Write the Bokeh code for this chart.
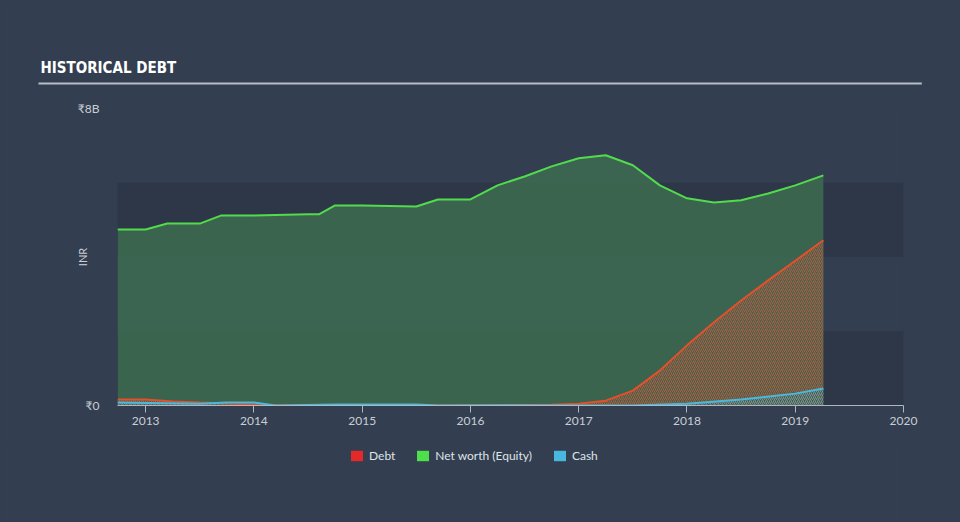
from bokeh.plotting import figure
from bokeh.layouts import column
from bokeh.models import (Range1d, FixedTicker, Legend, LegendItem, BoxAnnotation,
                          ColumnDataSource, Title)
from bokeh.embed import file_html
from bokeh.resources import INLINE

# ---------------- data (fractional years, INR billions) ----------------
nw_x = [2012.74, 2013.0, 2013.2, 2013.5, 2013.7, 2014.0, 2014.5, 2014.6, 2014.75, 2015.0,
        2015.5, 2015.7, 2016.0, 2016.25, 2016.5, 2016.75, 2017.0, 2017.25, 2017.5, 2017.75,
        2018.0, 2018.25, 2018.5, 2018.75, 2019.0, 2019.26]
nw_y = [4.74, 4.74, 4.9, 4.9, 5.12, 5.12, 5.15, 5.15, 5.39, 5.39,
        5.36, 5.55, 5.55, 5.93, 6.17, 6.44, 6.66, 6.74, 6.47, 5.93,
        5.58, 5.47, 5.53, 5.71, 5.93, 6.2]

debt_x = [2012.74, 2013.0, 2013.25, 2013.5, 2014.0, 2014.25, 2015.0, 2016.0, 2016.75,
          2017.0, 2017.25, 2017.5, 2017.75, 2018.0, 2018.25, 2018.5, 2018.75, 2019.0, 2019.26]
debt_y = [0.16, 0.16, 0.11, 0.08, 0.03, 0.0, 0.0, 0.0, 0.02,
          0.05, 0.13, 0.4, 0.94, 1.62, 2.24, 2.83, 3.37, 3.9, 4.45]

cash_x = [2012.74, 2013.5, 2013.75, 2014.0, 2014.2, 2014.75, 2015.5, 2015.7, 2016.25,
          2017.0, 2017.5, 2018.0, 2018.5, 2019.0, 2019.26]
cash_y = [0.08, 0.05, 0.08, 0.08, 0.0, 0.03, 0.03, 0.0, 0.01,
          0.0, 0.0, 0.05, 0.16, 0.32, 0.46]

year_ticks = [2013, 2014, 2015, 2016, 2017, 2018, 2019, 2020]
y_ticks = [0, 8000000000]
y_tick_labels = ["₹0", "₹8B"]
legend_labels = ["Debt", "Net worth (Equity)", "Cash"]
legend_colors = ["#e5292b", "#4ee04a", "#48b8df"]
chart_title = "HISTORICAL DEBT"

B = 1e9
BG = "#333f50"
BAND = "#2d3747"
TXT = "#c9ced6"
FONT = "Lato"

p = figure(width=960, height=440, x_range=Range1d(2012.74, 2020.0), y_range=Range1d(0, 8 * B),
           output_backend="svg", toolbar_location=None,
           min_border_left=117, min_border_right=57, min_border_top=108, min_border_bottom=35,
           background_fill_color=BG, border_fill_color=BG, outline_line_color=None,
           styles={"background-color": BG})
p.xgrid.visible = False
p.ygrid.visible = False

# above panel: spacer, rule, heading (stacked outward from the frame)
p.add_layout(Title(text=" ", text_font_size="20px", align="left", standoff=0), "above")
p.add_layout(Title(text=" ", text_font_size="1px", align="left", offset=-79, standoff=0,
                   padding=(0, 883, 1, 0), background_fill_color="#b8bec6"), "above")
p.add_layout(Title(text=chart_title, text_color="#ffffff",
                   text_font="DejaVu Sans Condensed, DejaVu Sans",
                   text_font_style="bold", text_font_size="15px", align="left", offset=-77,
                   standoff=7), "above")

p.add_layout(BoxAnnotation(bottom=0, top=2 * B, fill_color=BAND, fill_alpha=1, line_color=None, level="underlay"))
p.add_layout(BoxAnnotation(bottom=4 * B, top=6 * B, fill_color=BAND, fill_alpha=1, line_color=None, level="underlay"))

nw = ColumnDataSource(dict(x=nw_x, y=[v * B for v in nw_y]))
debt = ColumnDataSource(dict(x=debt_x, y=[v * B for v in debt_y]))
cash = ColumnDataSource(dict(x=cash_x, y=[v * B for v in cash_y]))

p.varea(x="x", y1=0, y2="y", source=nw, fill_color="#3c6b50", fill_alpha=0.88)
p.varea(x="x", y1=0, y2="y", source=debt, fill_alpha=0, hatch_pattern="/",
        hatch_color="#d9583a", hatch_alpha=0.8, hatch_scale=4, hatch_weight=1)
p.varea(x="x", y1=0, y2="y", source=cash, fill_alpha=0, hatch_pattern="/",
        hatch_color="#4bb8de", hatch_alpha=0.6, hatch_scale=4, hatch_weight=1)
p.line(x="x", y="y", source=nw, line_color="#52dc4c", line_width=2)
p.line(x="x", y="y", source=debt, line_color="#e3502b", line_width=2)
p.line(x="x", y="y", source=cash, line_color="#4bb8de", line_width=2)

# axes
p.xaxis.ticker = FixedTicker(ticks=year_ticks)
p.xaxis.minor_tick_line_color = None
p.xaxis.axis_line_color = "#b0b6be"
p.xaxis.major_tick_line_color = "#b0b6be"
p.xaxis.major_tick_out = 7
p.xaxis.major_tick_in = 0
p.xaxis.major_label_text_color = TXT
p.xaxis.major_label_text_font = FONT
p.xaxis.major_label_text_font_size = "12px"
p.xaxis.major_label_standoff = 4

p.yaxis.ticker = FixedTicker(ticks=y_ticks)
p.yaxis.major_label_overrides = {t: l for t, l in zip(y_ticks, y_tick_labels)}
p.yaxis.axis_line_color = None
p.yaxis.major_tick_line_color = None
p.yaxis.minor_tick_line_color = None
p.yaxis.major_label_text_color = TXT
p.yaxis.major_label_text_font = FONT
p.yaxis.major_label_text_font_size = "12px"
p.yaxis.major_label_standoff = 12
p.yaxis.axis_label = "INR"
p.yaxis.axis_label_text_color = TXT
p.yaxis.axis_label_text_font = FONT
p.yaxis.axis_label_text_font_size = "11px"
p.yaxis.axis_label_text_font_style = "normal"
p.yaxis.axis_label_standoff = -14

# legend strip (separate figure, frames aligned by the column)
lg = figure(width=960, height=82, x_range=Range1d(0, 1), y_range=Range1d(0, 1),
            output_backend="svg", toolbar_location=None,
            min_border_left=117, min_border_right=57, min_border_top=0, min_border_bottom=0,
            x_axis_location=None, y_axis_location=None,
            background_fill_color=BG, border_fill_color=BG, outline_line_color=None,
            styles={"background-color": BG})
lg.xgrid.visible = False
lg.ygrid.visible = False
items = []
for lab, col in zip(legend_labels, legend_colors):
    r = lg.quad(left=[5], right=[6], top=[6], bottom=[5], fill_color=col, line_color=None)
    items.append(LegendItem(label=lab, renderers=[r]))
legend = Legend(items=items, orientation="horizontal", location=(232, 59),
                background_fill_alpha=0, border_line_color=None,
                label_text_color="#dfe3e8", label_text_font=FONT, label_text_font_size="12px",
                glyph_width=15, glyph_height=13, label_height=13, spacing=20, margin=0, padding=4)
lg.add_layout(legend)

open("out.html", "w").write(file_html(column(p, lg, spacing=0, styles={"background-color": BG}), INLINE))
